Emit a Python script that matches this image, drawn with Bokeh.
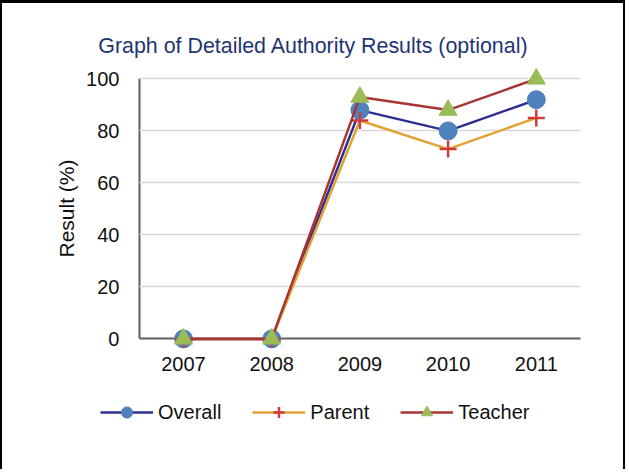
from bokeh.plotting import figure
from bokeh.models import (Range1d, Legend, LegendItem, Label, FixedTicker,
                          ColumnDataSource)
from bokeh.embed import file_html
from bokeh.resources import INLINE

# ---- data ----
years = [2007, 2008, 2009, 2010, 2011]
overall = [0, 0, 88, 80, 92]
parent = [0, 0, 84, 73, 85]
teacher = [0, 0, 93, 88, 100]
y_ticks = [0, 20, 40, 60, 80, 100]
series_names = ["Overall", "Parent", "Teacher"]

title_text = "Graph of Detailed Authority Results (optional)"
y_label = "Result (%)"

# ---- layout geometry (canvas pixels) ----
W, H = 625, 469
X0_PX, X_STEP = 181.0, 88.2        # pixel of first category, pixels per category
Y0_PX, Y_UNIT = 335.4, 2.6         # pixel of y=0, pixels per unit
x_start = years[0] - X0_PX / X_STEP
x_end = years[0] + (W - X0_PX) / X_STEP
y_end = Y0_PX / Y_UNIT
y_start = (Y0_PX - H) / Y_UNIT
x_lo, x_hi = years[0] - 0.5, years[-1] + 0.5

FONT = "Liberation Sans"
OV_LINE, OV_MARK = "#2E2E92", "#4F81BD"
PA_LINE, PA_MARK = "#E0A233", "#D13B3B"
TE_LINE, TE_MARK = "#A83434", "#9BBB59"
AXIS = "#5F5F5F"
GRID = "#D9D9D9"
TXT = "#111111"

p = figure(width=W, height=H,
           x_range=Range1d(x_start, x_end), y_range=Range1d(y_start, y_end),
           output_backend="svg", toolbar_location=None,
           min_border_left=0, min_border_right=0,
           min_border_top=0, min_border_bottom=0)
p.styles = {"border-left": "2px solid black", "border-right": "2px solid black",
            "border-top": "3px solid black"}
p.outline_line_color = None
p.background_fill_color = "white"
p.border_fill_color = "white"
p.title.text = ""

# ---- y axis ----
yax = p.yaxis[0]
yax.fixed_location = x_lo
yax.level = "underlay"
yax.ticker = FixedTicker(ticks=y_ticks)
yax.bounds = (0, 100)
yax.axis_line_color = AXIS
yax.axis_line_width = 2
yax.major_tick_line_color = None
yax.major_tick_out = 0
yax.major_tick_in = 0
yax.minor_tick_line_color = None
yax.major_label_standoff = 20
yax.major_label_text_font = FONT
yax.major_label_text_font_size = "20px"
yax.major_label_text_color = TXT
yax.axis_label = y_label
yax.axis_label_text_font = FONT
yax.axis_label_text_font_size = "21px"
yax.axis_label_text_font_style = "normal"
yax.axis_label_text_color = TXT
yax.axis_label_standoff = 5

# ---- x axis ----
xax = p.xaxis[0]
xax.fixed_location = 0
xax.level = "underlay"
xax.ticker = FixedTicker(ticks=years)
xax.major_label_overrides = {y: str(y) for y in years}
xax.bounds = (x_lo, x_hi)
xax.axis_line_color = AXIS
xax.axis_line_width = 2
xax.major_tick_line_color = None
xax.major_tick_out = 0
xax.major_tick_in = 0
xax.minor_tick_line_color = None
xax.major_label_standoff = 18
xax.major_label_text_font = FONT
xax.major_label_text_font_size = "20px"
xax.major_label_text_color = TXT

# ---- grid ----
p.xgrid.visible = False
yg = p.ygrid[0]
if "cross_bounds" in yg.properties():
    yg.ticker = FixedTicker(ticks=y_ticks[1:])
    yg.cross_bounds = (x_lo, x_hi)
    yg.grid_line_color = GRID
    yg.grid_line_width = 1.5
else:
    yg.visible = False
    p.segment(x0=x_lo, x1=x_hi, y0=y_ticks[1:], y1=y_ticks[1:],
              line_color=GRID, line_width=1.5, level="underlay")

# ---- series ----
src = ColumnDataSource(dict(year=years, overall=overall, parent=parent, teacher=teacher))

l1 = p.line("year", "overall", source=src, line_color=OV_LINE, line_width=2.5)
m1 = p.scatter("year", "overall", source=src, marker="circle", size=18,
               fill_color=OV_MARK, line_color=OV_MARK)
l2 = p.line("year", "parent", source=src, line_color=PA_LINE, line_width=2.5)
m2 = p.scatter("year", "parent", source=src, marker="cross", size=17,
               line_color=PA_MARK, line_width=2.5)
l3 = p.line("year", "teacher", source=src, line_color=TE_LINE, line_width=2.5)
m3 = p.scatter("year", "teacher", source=src, marker="triangle", size=18,
               fill_color=TE_MARK, line_color=TE_MARK)

legend = Legend(items=[LegendItem(label=series_names[0], renderers=[l1, m1]),
                       LegendItem(label=series_names[1], renderers=[l2, m2]),
                       LegendItem(label=series_names[2], renderers=[l3, m3])],
                orientation="horizontal", location=(98, 46),
                glyph_width=53, glyph_height=28, label_standoff=5, spacing=31,
                padding=0, margin=0, border_line_color=None,
                background_fill_alpha=0,
                label_text_font=FONT, label_text_font_size="20px",
                label_text_color=TXT)
p.add_layout(legend)

p.add_layout(Label(x=311, y=426.5, x_units="screen", y_units="screen",
                   text=title_text, text_align="center", text_baseline="alphabetic",
                   text_font=FONT, text_font_size="21.4px", text_color="#1F3573"))

open("out.html", "w").write(file_html(p, INLINE))
